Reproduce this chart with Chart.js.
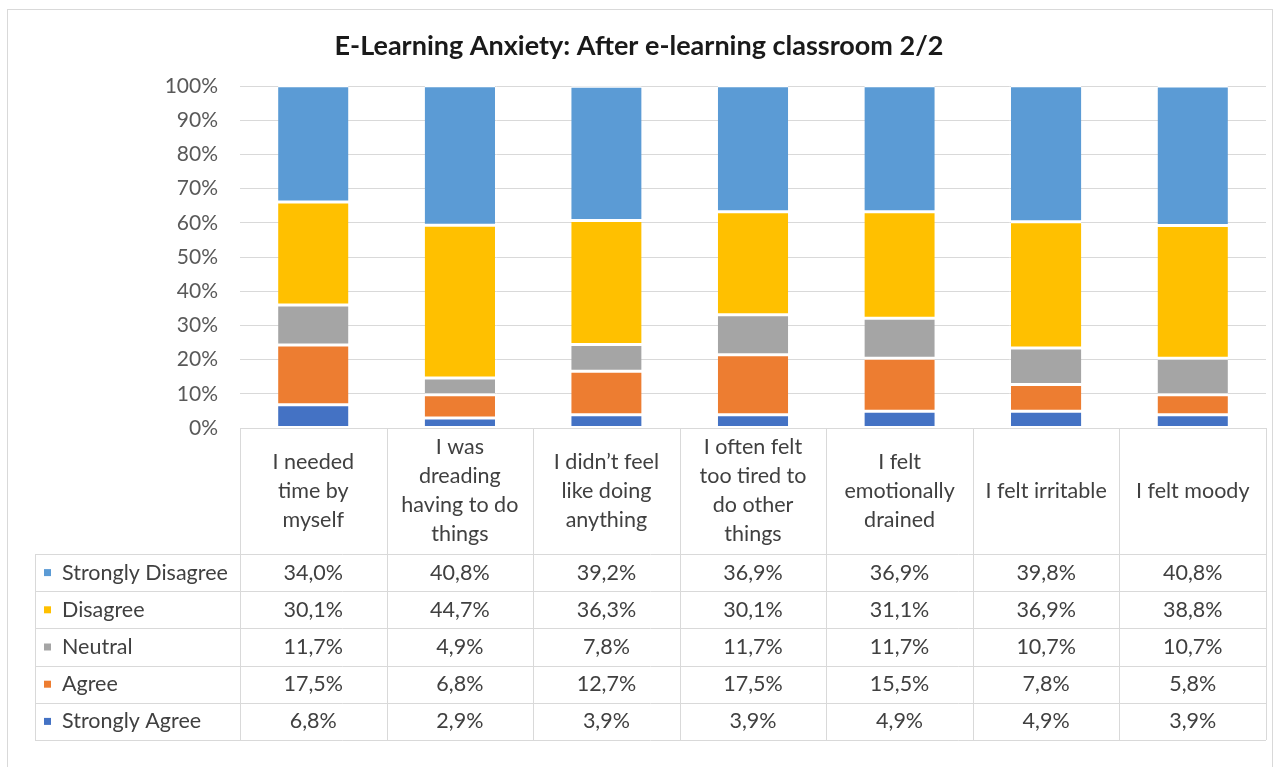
<!DOCTYPE html>
<html>
<head>
<meta charset="utf-8">
<script src="https://cdn.jsdelivr.net/npm/chart.js@4.4.1/dist/chart.umd.min.js"></script>
<style>
  html, body { margin: 0; padding: 0; background: #fff; }
  #wrap { width: 1278px; height: 767px; position: relative; }
</style>
</head>
<body>
<div id="wrap"><canvas id="chart" width="1278" height="767"></canvas></div>
<script>
const TITLE = 'E-Learning Anxiety: After e-learning classroom 2/2';

// categories, already broken into lines as in the data table
const categories = [
    ['I needed', 'time by', 'myself'],
    ['I was', 'dreading', 'having to do', 'things'],
    ['I didn\u2019t feel', 'like doing', 'anything'],
    ['I often felt', 'too tired to', 'do other', 'things'],
    ['I felt', 'emotionally', 'drained'],
    ['I felt irritable'],
    ['I felt moody']
];

const stronglyAgree    = [6.8, 2.9, 3.9, 3.9, 4.9, 4.9, 3.9];
const agree            = [17.5, 6.8, 12.7, 17.5, 15.5, 7.8, 5.8];
const neutral          = [11.7, 4.9, 7.8, 11.7, 11.7, 10.7, 10.7];
const disagree         = [30.1, 44.7, 36.3, 30.1, 31.1, 36.9, 38.8];
const stronglyDisagree = [34.0, 40.8, 39.2, 36.9, 36.9, 39.8, 40.8];

const yTicks = [0, 10, 20, 30, 40, 50, 60, 70, 80, 90, 100];

// stacked bottom-up
const series = [
    { label: 'Strongly Agree', data: stronglyAgree, color: '#4472C4' },
    { label: 'Agree', data: agree, color: '#ED7D31' },
    { label: 'Neutral', data: neutral, color: '#A5A5A5' },
    { label: 'Disagree', data: disagree, color: '#FFC000' },
    { label: 'Strongly Disagree', data: stronglyDisagree, color: '#5B9BD5' }
];

const FONT = 'Lato, "Open Sans", sans-serif';
const LINE = '#D9D9D9';
const TEXT = '#404040';

function fmt(v) {
    return v.toFixed(1).replace('.', ',') + '%';
}

// title, outer frame and the data table under the plot
const tablePlugin = {
    id: 'dataTable',
    afterDraw(chart) {
        const ctx = chart.ctx;
        const x = chart.scales.x;
        const area = chart.chartArea;
        const n = categories.length;
        const colW = (x.right - x.left) / n;
        const labelTop = area.bottom;
        const labelBottom = 554;
        const rowH = 37.2;
        const legendLeft = 35;
        const rows = series.slice().reverse();
        const tableBottom = labelBottom + rowH * rows.length;

        ctx.save();
        // frame
        ctx.strokeStyle = LINE;
        ctx.lineWidth = 1;
        ctx.strokeRect(7.5, 9.5, 1265, 780);

        // title
        ctx.fillStyle = '#1a1a1a';
        ctx.font = 'bold 27px ' + FONT;
        ctx.textAlign = 'center';
        ctx.textBaseline = 'middle';
        ctx.fillText(TITLE, 639, 46);

        // grid of the table
        ctx.beginPath();
        ctx.moveTo(x.left, labelTop + 0.5);
        ctx.lineTo(x.right, labelTop + 0.5);
        for (let r = 0; r <= rows.length; r++) {
            const yy = Math.round(labelBottom + r * rowH) + 0.5;
            ctx.moveTo(legendLeft, yy);
            ctx.lineTo(x.right, yy);
        }
        for (let i = 0; i <= n; i++) {
            const xx = Math.round(x.left + i * colW) + 0.5;
            ctx.moveTo(xx, labelTop);
            ctx.lineTo(xx, tableBottom);
        }
        ctx.moveTo(legendLeft + 0.5, labelBottom);
        ctx.lineTo(legendLeft + 0.5, tableBottom);
        ctx.stroke();

        // category labels
        ctx.fillStyle = TEXT;
        ctx.font = '21.5px ' + FONT;
        ctx.textAlign = 'center';
        const lh = 29;
        const midY = (labelTop + labelBottom) / 2;
        categories.forEach((lines, i) => {
            const cx = x.getPixelForValue(i);
            const y0 = midY - (lines.length - 1) * lh / 2;
            lines.forEach((t, k) => ctx.fillText(t, cx, y0 + k * lh));
        });

        // value rows with legend keys
        rows.forEach((s, r) => {
            const cy = labelBottom + r * rowH + rowH / 2;
            ctx.fillStyle = s.color;
            ctx.fillRect(44, cy - 3.5, 7, 7);
            ctx.fillStyle = TEXT;
            ctx.textAlign = 'left';
            ctx.fillText(s.label, 62, cy);
            ctx.textAlign = 'center';
            s.data.forEach((v, i) => ctx.fillText(fmt(v), x.getPixelForValue(i), cy));
        });
        ctx.restore();
    }
};

new Chart(document.getElementById('chart'), {
    type: 'bar',
    data: {
        labels: categories.map(c => c.join(' ')),
        datasets: series.map(s => ({
            label: s.label,
            data: s.data,
            backgroundColor: s.color,
            borderColor: '#fff',
            borderWidth: { top: 1.5, bottom: 1.5, left: 0, right: 0 },
            borderSkipped: false,
            barPercentage: 0.8,
            categoryPercentage: 0.6
        }))
    },
    options: {
        responsive: false,
        animation: false,
        events: [],
        layout: { padding: { top: 86, bottom: 339, left: 0, right: 12 } },
        plugins: {
            legend: { display: false },
            title: { display: false },
            tooltip: { enabled: false }
        },
        scales: {
            x: {
                stacked: true,
                display: false
            },
            y: {
                stacked: true,
                min: 0,
                max: 100,
                afterFit(scale) { scale.width = 240; },
                afterBuildTicks(scale) { scale.ticks = yTicks.map(v => ({ value: v })); },
                border: { display: false },
                grid: { color: LINE, drawTicks: false },
                ticks: {
                    padding: 22,
                    color: '#595959',
                    font: { family: FONT, size: 21 },
                    callback: v => v + '%'
                }
            }
        }
    },
    plugins: [tablePlugin]
});
</script>
</body>
</html>
